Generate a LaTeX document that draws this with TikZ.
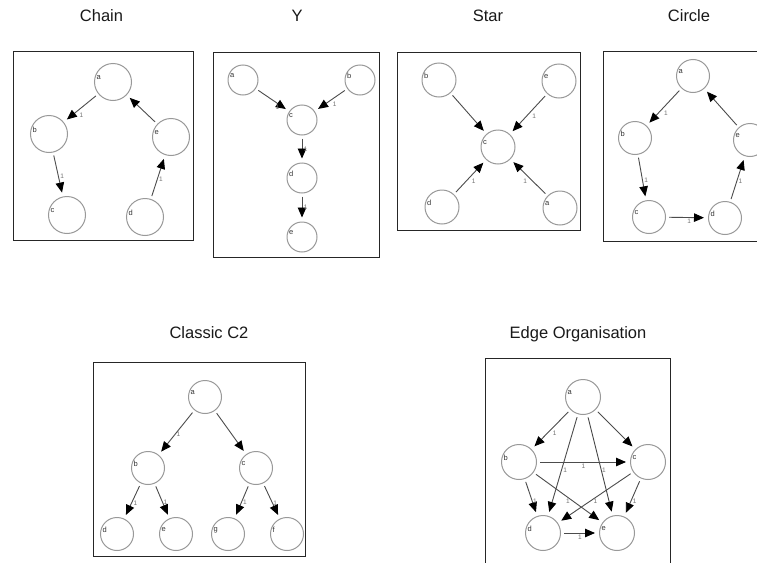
\documentclass[tikz,border=0pt]{standalone}
\usepackage{fontspec}
\setmainfont{Liberation Sans}
\usetikzlibrary{arrows.meta}

\begin{document}
\begin{tikzpicture}[x=1pt,y=-1pt,
  frame/.style={draw=black!85,line width=1pt},
  title/.style={font=\fontsize{16.5}{19}\selectfont,text=black!90,anchor=base,inner sep=0pt},
  lab/.style={font=\fontsize{7.5}{7.5}\selectfont,text=black!80,inner sep=0.3pt,anchor=west,xshift=2pt,yshift=4pt},
  vtx/.style={circle,draw=black!40,line width=1pt,inner sep=0pt,minimum size=\vs,label={[lab]180:#1}},
  arr/.style={draw=black!70,line width=0.9pt,shorten <=3pt,shorten >=4pt,
    -{Triangle[length=10pt,width=8.5pt,color=black]}},
  wt/.style={font=\fontsize{6.5}{6.5}\selectfont,text=black!55,inner sep=1.5pt},
]
\useasboundingbox (0,0) rectangle (757,562);
\clip (0,0) rectangle (757,562);
\fill[white] (0,0) rectangle (757,562);

% ---------------- Chain ----------------
\node[title] (tchain) at (101.5,21) {Chain};
\draw[frame] (13,51.7) rectangle (193,240.7);
\begin{scope}
\def\vs{37pt}
\node[vtx=a] (ca) at (113,82) {};
\node[vtx=b] (cb) at (49,134) {};
\node[vtx=e] (ce) at (171,137) {};
\node[vtx=c] (cc) at (67,215) {};
\node[vtx=d] (cd) at (145,217) {};
\draw[arr] (ca) -- node[wt,pos=.6,below right]{1} (cb);
\draw[arr] (cb) -- node[wt,pos=.55,right]{1} (cc);
\draw[arr] (cd) -- node[wt,pos=.45,right]{1} (ce);
\draw[arr] (ce) -- (ca);
\end{scope}

% ---------------- Y ----------------
\node[title] (ty) at (297,21) {Y};
\draw[frame] (213,52) rectangle (379,257);
\begin{scope}
\def\vs{30pt}
\node[vtx=a] (ya) at (243,80) {};
\node[vtx=b] (yb) at (360,80) {};
\node[vtx=c] (yc) at (302,120) {};
\node[vtx=d] (yd) at (302,178) {};
\node[vtx=e] (ye) at (302,237) {};
\draw[arr] (ya) -- node[wt,pos=.65,below]{1} (yc);
\draw[arr] (yb) -- node[wt,pos=.5,below right]{1} (yc);
\draw[arr] (yc) -- node[wt,pos=.5,right]{1} (yd);
\draw[arr] (yd) -- node[wt,pos=.5,right]{1} (ye);
\end{scope}

% ---------------- Star ----------------
\node[title] (tstar) at (488,21) {Star};
\draw[frame] (397,52) rectangle (580,230);
\begin{scope}
\def\vs{34pt}
\node[vtx=b] (sb) at (439,80) {};
\node[vtx=e] (se) at (559,81) {};
\node[vtx=c] (sc) at (498,147) {};
\node[vtx=d] (sd) at (442,207) {};
\node[vtx=a] (sa) at (560,208) {};
\draw[arr] (sb) -- (sc);
\draw[arr] (se) -- node[wt,pos=.45,below right]{1} (sc);
\draw[arr] (sd) -- node[wt,pos=.5,below right]{1} (sc);
\draw[arr] (sa) -- node[wt,pos=.5,below left]{1} (sc);
\end{scope}

% ---------------- Circle ----------------
\node[title] (tcircle) at (689,21) {Circle};
\draw[frame] (603.3,51.7) rectangle (790,241.7);
\begin{scope}
\def\vs{33pt}
\node[vtx=a] (ra) at (693,76) {};
\node[vtx=b] (rb) at (635,138) {};
\node[vtx=e] (re) at (750,140) {};
\node[vtx=c] (rc) at (649,217) {};
\node[vtx=d] (rd) at (725,218) {};
\draw[arr] (ra) -- node[wt,pos=.55,below right]{1} (rb);
\draw[arr] (rb) -- node[wt,pos=.55,right]{1} (rc);
\draw[arr] (rc) -- node[wt,pos=.55,below]{1} (rd);
\draw[arr] (rd) -- node[wt,pos=.45,right]{1} (re);
\draw[arr] (re) -- (ra);
\end{scope}

% ---------------- Classic C2 ----------------
\node[title] (tclassic) at (209,338.3) {Classic C2};
\draw[frame] (93.3,362.3) rectangle (305.7,556);
\begin{scope}
\def\vs{33pt}
\node[vtx=a] (ka) at (205,397) {};
\node[vtx=b] (kb) at (148,468) {};
\node[vtx=c] (kc) at (256,468) {};
\node[vtx=d] (kd) at (117,534) {};
\node[vtx=e] (ke) at (176,534) {};
\node[vtx=g] (kg) at (228,534) {};
\node[vtx=f] (kf) at (287,534) {};
\draw[arr] (ka) -- node[wt,pos=.55,right]{1} (kb);
\draw[arr] (ka) -- (kc);
\draw[arr] (kb) -- node[wt,pos=.55,right]{1} (kd);
\draw[arr] (kb) -- node[wt,pos=.55,right,inner sep=0.5pt]{1} (ke);
\draw[arr] (kc) -- node[wt,pos=.55,right]{1} (kg);
\draw[arr] (kc) -- node[wt,pos=.55,right,inner sep=0.5pt]{1} (kf);
\end{scope}

% ---------------- Edge Organisation ----------------
\node[title] (tedge) at (578,338.3) {Edge Organisation};
\draw[frame] (485,358.3) rectangle (670,600);
\begin{scope}
\def\vs{35pt}
\node[vtx=a] (ea) at (583,397) {};
\node[vtx=b] (eb) at (519,462) {};
\node[vtx=c] (ec) at (648,462) {};
\node[vtx=d] (ed) at (543,533) {};
\node[vtx=e] (ee) at (617,533) {};
\draw[arr] (ea) -- node[wt,pos=.5,below right]{1} (eb);
\draw[arr] (ea) -- (ec);
\draw[arr] (ea) -- node[wt,pos=.55,right]{1} (ed);
\draw[arr] (ea) -- node[wt,pos=.55,right,inner sep=0.5pt]{1} (ee);
\draw[arr] (eb) -- node[wt,pos=.5,below]{1} (ec);
\draw[arr] (eb) -- node[wt,pos=.6,right,inner sep=0.5pt]{1} (ed);
\draw[arr] (eb) -- node[wt,pos=.5,below]{1} (ee);
\draw[arr] (ec) -- node[wt,pos=.5,below]{1} (ed);
\draw[arr] (ec) -- node[wt,pos=.6,right]{1} (ee);
\draw[arr] (ed) -- node[wt,pos=.5,below]{1} (ee);
\end{scope}
\end{tikzpicture}
\end{document}
